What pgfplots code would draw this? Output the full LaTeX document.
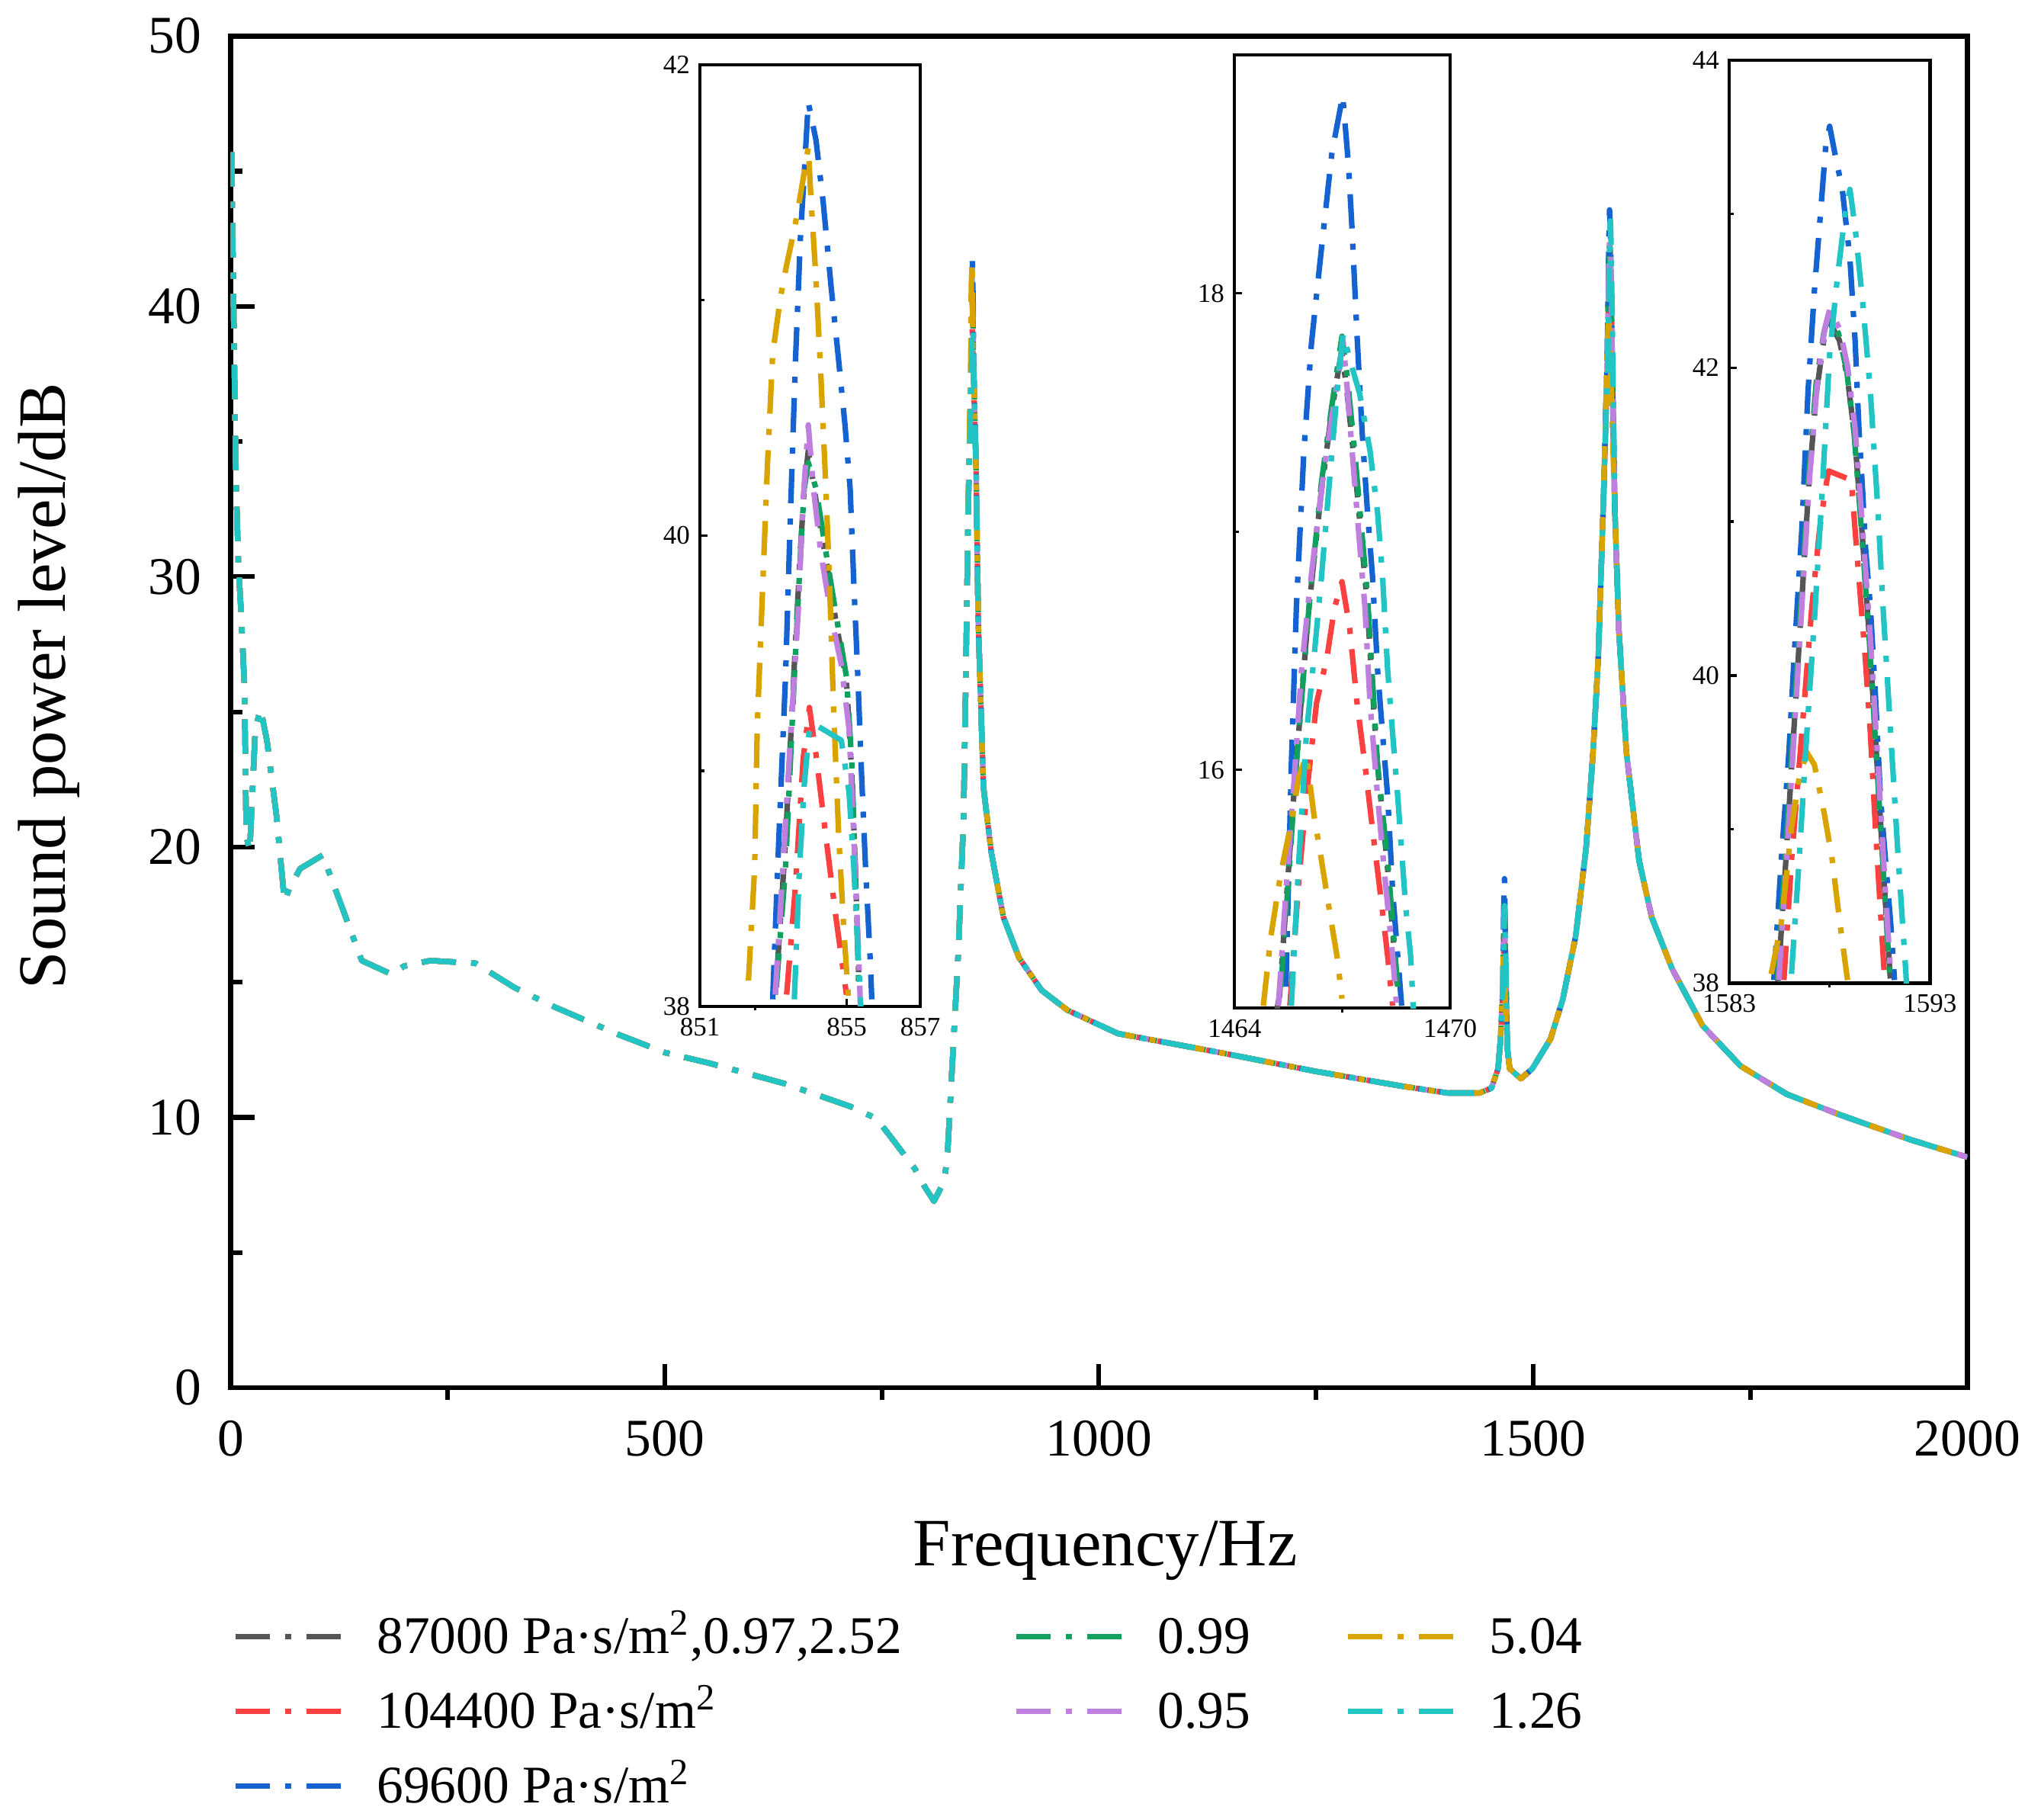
\documentclass[border=0pt]{standalone}
\usepackage{fontspec}
\setmainfont{Liberation Serif}
\usepackage{pgfplots}
\usepackage{pgfplotstable}
\pgfplotsset{compat=1.18}
\definecolor{cgy}{HTML}{555555}
\definecolor{crd}{HTML}{F94141}
\definecolor{cbl}{HTML}{1463D1}
\definecolor{cgn}{HTML}{12A05E}
\definecolor{cpu}{HTML}{BF7FDF}
\definecolor{cor}{HTML}{D9A300}
\definecolor{ccy}{HTML}{22C4C4}

\pgfplotstableread{
f gy rd bl gn pu or cy
1 45.7 45.7 45.7 45.7 45.7 45.7 45.7
6 33.7 33.7 33.7 33.7 33.7 33.7 33.7
9 30.4 30.4 30.4 30.4 30.4 30.4 30.4
12 28.7 28.7 28.7 28.7 28.7 28.7 28.7
16 25.9 25.9 25.9 25.9 25.9 25.9 25.9
18 20.4 20.4 20.4 20.4 20.4 20.4 20.4
22 19.85 19.85 19.85 19.85 19.85 19.85 19.85
25.6 22.4 22.4 22.4 22.4 22.4 22.4 22.4
28.5 24.4 24.4 24.4 24.4 24.4 24.4 24.4
34.6 25.1 25.1 25.1 25.1 25.1 25.1 25.1
42 23.9 23.9 23.9 23.9 23.9 23.9 23.9
53 21.1 21.1 21.1 21.1 21.1 21.1 21.1
62 18.0 18.0 18.0 18.0 18.0 18.0 18.0
68 18.5 18.5 18.5 18.5 18.5 18.5 18.5
80 19.2 19.2 19.2 19.2 19.2 19.2 19.2
106 19.7 19.7 19.7 19.7 19.7 19.7 19.7
128 17.8 17.8 17.8 17.8 17.8 17.8 17.8
151 15.8 15.8 15.8 15.8 15.8 15.8 15.8
185 15.3 15.3 15.3 15.3 15.3 15.3 15.3
200 15.6 15.6 15.6 15.6 15.6 15.6 15.6
230 15.8 15.8 15.8 15.8 15.8 15.8 15.8
282 15.7 15.7 15.7 15.7 15.7 15.7 15.7
327 14.8 14.8 14.8 14.8 14.8 14.8 14.8
372 14.1 14.1 14.1 14.1 14.1 14.1 14.1
447 13.06 13.06 13.06 13.06 13.06 13.06 13.06
500 12.4 12.4 12.4 12.4 12.4 12.4 12.4
552 12.0 12.0 12.0 12.0 12.0 12.0 12.0
638 11.25 11.25 11.25 11.25 11.25 11.25 11.25
714 10.4 10.4 10.4 10.4 10.4 10.4 10.4
744 9.95 9.95 9.95 9.95 9.95 9.95 9.95
762 9.2 9.2 9.2 9.2 9.2 9.2 9.2
788 8.1 8.1 8.1 8.1 8.1 8.1 8.1
800 7.4 7.4 7.4 7.4 7.4 7.4 7.4
810 6.9 6.9 6.9 6.9 6.9 6.9 6.9
818 7.4 7.4 7.4 7.4 7.4 7.4 7.4
823 7.9 7.9 7.9 7.9 7.9 7.9 7.9
826 8.9 8.9 8.9 8.9 8.9 8.9 8.9
832 12.5 12.5 12.5 12.5 12.5 12.5 12.5
838 16.1 16.1 16.1 16.1 16.1 16.1 16.1
844 21.0 21.0 21.0 21.0 21.0 21.0 21.0
846.5 25.9 25.9 25.9 25.9 25.9 25.9 25.9
849.4 32.5 32.5 32.5 32.5 32.5 32.5 32.5
853.08 38.1 nan nan nan nan nan nan
853.33 38.7 nan nan nan nan nan nan
853.57 39.45 nan nan nan nan nan nan
853.74 39.95 nan nan nan nan nan nan
853.84 40.2 nan nan nan nan nan nan
853.95 40.36 nan nan nan nan nan nan
854.16 40.15 nan nan nan nan nan nan
854.43 39.9 nan nan nan nan nan nan
854.71 39.63 nan nan nan nan nan nan
854.99 39.38 nan nan nan nan nan nan
855.13 39.0 nan nan nan nan nan nan
855.23 38.6 nan nan nan nan nan nan
855.33 38.1 nan nan nan nan nan nan
853.36 nan 38.05 nan nan nan nan nan
853.60 nan 38.51 nan nan nan nan nan
853.81 nan 39.05 nan nan nan nan nan
853.98 nan 39.27 nan nan nan nan nan
854.16 nan 39.07 nan nan nan nan nan
854.43 nan 38.72 nan nan nan nan nan
854.71 nan 38.37 nan nan nan nan nan
854.99 nan 38.05 nan nan nan nan nan
852.98 nan nan 38.03 nan nan nan nan
853.15 nan nan 38.72 nan nan nan nan
853.33 nan nan 39.40 nan nan nan nan
853.46 nan nan 40.07 nan nan nan nan
853.60 nan nan 40.74 nan nan nan nan
853.74 nan nan 41.28 nan nan nan nan
853.84 nan nan 41.54 nan nan nan nan
853.95 nan nan 41.84 nan nan nan nan
854.16 nan nan 41.68 nan nan nan nan
854.36 nan nan 41.41 nan nan nan nan
854.57 nan nan 41.06 nan nan nan nan
854.78 nan nan 40.74 nan nan nan nan
854.95 nan nan 40.47 nan nan nan nan
855.09 nan nan 40.20 nan nan nan nan
855.19 nan nan 39.80 nan nan nan nan
855.30 nan nan 39.40 nan nan nan nan
855.40 nan nan 38.99 nan nan nan nan
855.51 nan nan 38.59 nan nan nan nan
855.64 nan nan 38.19 nan nan nan nan
855.68 nan nan 38.03 nan nan nan nan
853.08 nan nan nan 38.08 nan nan nan
853.33 nan nan nan 38.59 nan nan nan
853.57 nan nan nan 39.40 nan nan nan
853.74 nan nan nan 39.93 nan nan nan
853.84 nan nan nan 40.20 nan nan nan
853.95 nan nan nan 40.31 nan nan nan
854.16 nan nan nan 40.20 nan nan nan
854.43 nan nan nan 39.93 nan nan nan
854.71 nan nan nan 39.66 nan nan nan
854.99 nan nan nan 39.40 nan nan nan
855.13 nan nan nan 39.05 nan nan nan
855.23 nan nan nan 38.59 nan nan nan
855.33 nan nan nan 38.05 nan nan nan
853.05 nan nan nan nan 38.05 nan nan
853.26 nan nan nan nan 38.59 nan nan
853.46 nan nan nan nan 39.13 nan nan
853.67 nan nan nan nan 39.66 nan nan
853.81 nan nan nan nan 40.15 nan nan
853.95 nan nan nan nan 40.47 nan nan
854.09 nan nan nan nan 40.20 nan nan
854.29 nan nan nan nan 39.93 nan nan
854.57 nan nan nan nan 39.66 nan nan
854.85 nan nan nan nan 39.45 nan nan
855.06 nan nan nan nan 39.18 nan nan
855.19 nan nan nan nan 38.72 nan nan
855.33 nan nan nan nan 38.19 nan nan
855.37 nan nan nan nan 38.0 nan nan
852.32 nan nan nan nan nan 38.11 nan
852.49 nan nan nan nan nan 38.59 nan
852.56 nan nan nan nan nan 39.19 nan
852.70 nan nan nan nan nan 39.75 nan
852.84 nan nan nan nan nan 40.31 nan
852.98 nan nan nan nan nan 40.77 nan
853.19 nan nan nan nan nan 41.01 nan
853.36 nan nan nan nan nan 41.15 nan
853.57 nan nan nan nan nan 41.30 nan
853.74 nan nan nan nan nan 41.45 nan
853.91 nan nan nan nan nan 41.61 nan
853.95 nan nan nan nan nan 41.65 nan
854.02 nan nan nan nan nan 41.44 nan
854.16 nan nan nan nan nan 41.09 nan
854.29 nan nan nan nan nan 40.69 nan
854.43 nan nan nan nan nan 40.20 nan
854.54 nan nan nan nan nan 39.75 nan
854.64 nan nan nan nan nan 39.26 nan
854.78 nan nan nan nan nan 38.72 nan
854.92 nan nan nan nan nan 38.32 nan
855.06 nan nan nan nan nan 38.0 nan
853.57 nan nan nan nan nan nan 38.03
853.71 nan nan nan nan nan nan 38.59
853.84 nan nan nan nan nan nan 38.94
853.98 nan nan nan nan nan nan 39.18
854.10 nan nan nan nan nan nan 39.20
854.43 nan nan nan nan nan nan 39.17
854.85 nan nan nan nan nan nan 39.13
855.06 nan nan nan nan nan nan 38.91
855.19 nan nan nan nan nan nan 38.59
855.33 nan nan nan nan nan nan 38.16
855.38 nan nan nan nan nan nan 38.0
858.5 34.0 34.0 34.0 34.0 34.0 34.0 34.0
861 28.3 28.3 28.3 28.3 28.3 28.3 28.3
867 22.2 22.2 22.2 22.2 22.2 22.2 22.2
876 19.8 19.8 19.8 19.8 19.8 19.8 19.8
890 17.4 17.4 17.4 17.4 17.4 17.4 17.4
908 15.9 15.9 15.9 15.9 15.9 15.9 15.9
934 14.7 14.7 14.7 14.7 14.7 14.7 14.7
964 13.96 13.96 13.96 13.96 13.96 13.96 13.96
1022 13.1 13.1 13.1 13.1 13.1 13.1 13.1
1139 12.4 12.4 12.4 12.4 12.4 12.4 12.4
1250 11.7 11.7 11.7 11.7 11.7 11.7 11.7
1350 11.15 11.15 11.15 11.15 11.15 11.15 11.15
1402 10.9 10.9 10.9 10.9 10.9 10.9 10.9
1438 10.9 10.9 10.9 10.9 10.9 10.9 10.9
1452 11.08 11.08 11.08 11.08 11.08 11.08 11.08
1459.6 11.8 11.8 11.8 11.8 11.8 11.8 11.8
1462.5 12.9 12.9 12.9 12.9 12.9 12.9 12.9
1465.25 15.05 nan nan nan nan nan nan
1465.70 16.0 nan nan nan nan nan nan
1466.05 16.65 nan nan nan nan nan nan
1466.40 17.15 nan nan nan nan nan nan
1466.70 17.5 nan nan nan nan nan nan
1466.98 17.76 nan nan nan nan nan nan
1467.12 17.6 nan nan nan nan nan nan
1467.33 17.3 nan nan nan nan nan nan
1467.68 16.72 nan nan nan nan nan nan
1467.96 16.05 nan nan nan nan nan nan
1468.24 15.62 nan nan nan nan nan nan
1468.52 15.1 nan nan nan nan nan nan
1465.54 nan 15.01 nan nan nan nan nan
1465.79 nan 15.54 nan nan nan nan nan
1466.00 nan 15.89 nan nan nan nan nan
1466.28 nan 16.28 nan nan nan nan nan
1466.57 nan 16.47 nan nan nan nan nan
1466.78 nan 16.68 nan nan nan nan nan
1466.99 nan 16.79 nan nan nan nan nan
1467.20 nan 16.60 nan nan nan nan nan
1467.41 nan 16.28 nan nan nan nan nan
1467.63 nan 16.02 nan nan nan nan nan
1467.84 nan 15.75 nan nan nan nan nan
1468.05 nan 15.49 nan nan nan nan nan
1468.26 nan 15.22 nan nan nan nan nan
1468.40 nan 15.01 nan nan nan nan nan
1465.43 nan nan 15.09 nan nan nan nan
1465.58 nan nan 16.02 nan nan nan nan
1465.72 nan nan 16.68 nan nan nan nan
1465.93 nan nan 17.34 nan nan nan nan
1466.14 nan nan 17.79 nan nan nan nan
1466.42 nan nan 18.19 nan nan nan nan
1466.71 nan nan 18.59 nan nan nan nan
1467.01 nan nan 18.83 nan nan nan nan
1467.17 nan nan 18.54 nan nan nan nan
1467.27 nan nan 18.27 nan nan nan nan
1467.41 nan nan 17.82 nan nan nan nan
1467.55 nan nan 17.42 nan nan nan nan
1467.70 nan nan 17.08 nan nan nan nan
1467.84 nan nan 16.81 nan nan nan nan
1467.98 nan nan 16.42 nan nan nan nan
1468.12 nan nan 16.15 nan nan nan nan
1468.26 nan nan 15.89 nan nan nan nan
1468.40 nan nan 15.49 nan nan nan nan
1468.54 nan nan 15.22 nan nan nan nan
1468.65 nan nan 15.01 nan nan nan nan
1465.29 nan nan nan 15.09 nan nan nan
1465.72 nan nan nan 16.02 nan nan nan
1466.07 nan nan nan 16.68 nan nan nan
1466.42 nan nan nan 17.21 nan nan nan
1466.71 nan nan nan 17.53 nan nan nan
1466.99 nan nan nan 17.82 nan nan nan
1467.13 nan nan nan 17.66 nan nan nan
1467.34 nan nan nan 17.34 nan nan nan
1467.70 nan nan nan 16.73 nan nan nan
1467.98 nan nan nan 16.02 nan nan nan
1468.26 nan nan nan 15.62 nan nan nan
1468.54 nan nan nan 15.09 nan nan nan
1465.22 nan nan nan nan 15.01 nan nan
1465.43 nan nan nan nan 15.49 nan nan
1465.65 nan nan nan nan 15.94 nan nan
1465.86 nan nan nan nan 16.41 nan nan
1466.07 nan nan nan nan 16.73 nan nan
1466.28 nan nan nan nan 17.00 nan nan
1466.49 nan nan nan nan 17.26 nan nan
1466.71 nan nan nan nan 17.48 nan nan
1466.92 nan nan nan nan 17.69 nan nan
1467.02 nan nan nan nan 17.80 nan nan
1467.13 nan nan nan nan 17.61 nan nan
1467.34 nan nan nan nan 17.21 nan nan
1467.48 nan nan nan nan 16.95 nan nan
1467.63 nan nan nan nan 16.68 nan nan
1467.77 nan nan nan nan 16.28 nan nan
1467.98 nan nan nan nan 15.89 nan nan
1468.19 nan nan nan nan 15.54 nan nan
1468.40 nan nan nan nan 15.22 nan nan
1468.51 nan nan nan nan 15.01 nan nan
1464.80 nan nan nan nan nan 15.01 nan
1465.01 nan nan nan nan nan 15.30 nan
1465.29 nan nan nan nan nan 15.57 nan
1465.58 nan nan nan nan nan 15.78 nan
1465.79 nan nan nan nan nan 15.97 nan
1466.00 nan nan nan nan nan 16.06 nan
1466.21 nan nan nan nan nan 15.81 nan
1466.42 nan nan nan nan nan 15.62 nan
1466.64 nan nan nan nan nan 15.41 nan
1466.85 nan nan nan nan nan 15.22 nan
1466.99 nan nan nan nan nan 15.04 nan
1465.58 nan nan nan nan nan nan 15.01
1465.79 nan nan nan nan nan nan 15.62
1466.00 nan nan nan nan nan nan 16.15
1466.21 nan nan nan nan nan nan 16.47
1466.42 nan nan nan nan nan nan 16.81
1466.64 nan nan nan nan nan nan 17.21
1466.85 nan nan nan nan nan nan 17.58
1467.02 nan nan nan nan nan nan 17.83
1467.27 nan nan nan nan nan nan 17.69
1467.48 nan nan nan nan nan nan 17.58
1467.77 nan nan nan nan nan nan 17.34
1467.98 nan nan nan nan nan nan 17.08
1468.12 nan nan nan nan nan nan 16.81
1468.26 nan nan nan nan nan nan 16.42
1468.40 nan nan nan nan nan nan 16.15
1468.54 nan nan nan nan nan nan 15.89
1468.76 nan nan nan nan nan nan 15.43
1468.90 nan nan nan nan nan nan 15.22
1468.97 nan nan nan nan nan nan 15.01
1470.5 12.5 12.5 12.5 12.5 12.5 12.5 12.5
1473 11.8 11.8 11.8 11.8 11.8 11.8 11.8
1486 11.43 11.43 11.43 11.43 11.43 11.43 11.43
1499 11.8 11.8 11.8 11.8 11.8 11.8 11.8
1520 12.9 12.9 12.9 12.9 12.9 12.9 12.9
1534 14.35 14.35 14.35 14.35 14.35 14.35 14.35
1549 16.7 16.7 16.7 16.7 16.7 16.7 16.7
1561 19.97 19.97 19.97 19.97 19.97 19.97 19.97
1569 23.5 23.5 23.5 23.5 23.5 23.5 23.5
1575 27.0 27.0 27.0 27.0 27.0 27.0 27.0
1581 32.8 32.8 32.8 32.8 32.8 32.8 32.8
1585.43 38.02 nan nan nan nan nan nan
1585.83 38.82 nan nan nan nan nan nan
1586.22 39.65 nan nan nan nan nan nan
1586.60 40.46 nan nan nan nan nan nan
1586.97 41.26 nan nan nan nan nan nan
1587.35 41.85 nan nan nan nan nan nan
1587.73 42.2 nan nan nan nan nan nan
1587.98 42.3 nan nan nan nan nan nan
1588.48 42.18 nan nan nan nan nan nan
1588.87 41.95 nan nan nan nan nan nan
1589.25 41.55 nan nan nan nan nan nan
1589.63 40.9 nan nan nan nan nan nan
1590.00 40.2 nan nan nan nan nan nan
1590.38 39.38 nan nan nan nan nan nan
1590.76 38.56 nan nan nan nan nan nan
1591.02 38.03 nan nan nan nan nan nan
1585.72 nan 38.02 nan nan nan nan nan
1586.10 nan 38.80 nan nan nan nan nan
1586.61 nan 39.62 nan nan nan nan nan
1587.11 nan 40.44 nan nan nan nan nan
1587.49 nan 40.94 nan nan nan nan nan
1587.75 nan 41.18 nan nan nan nan nan
1587.94 nan 41.33 nan nan nan nan nan
1589.08 nan 41.27 nan nan nan nan nan
1589.27 nan 40.94 nan nan nan nan nan
1589.52 nan 40.53 nan nan nan nan nan
1589.77 nan 40.12 nan nan nan nan nan
1590.03 nan 39.62 nan nan nan nan nan
1590.28 nan 39.01 nan nan nan nan nan
1590.53 nan 38.47 nan nan nan nan nan
1590.72 nan 38.06 nan nan nan nan nan
1585.22 nan nan 38.02 nan nan nan nan
1585.59 nan nan 38.80 nan nan nan nan
1585.97 nan nan 39.50 nan nan nan nan
1586.23 nan nan 40.12 nan nan nan nan
1586.61 nan nan 40.94 nan nan nan nan
1586.92 nan nan 41.84 nan nan nan nan
1587.24 nan nan 42.50 nan nan nan nan
1587.56 nan nan 43.03 nan nan nan nan
1587.81 nan nan 43.45 nan nan nan nan
1588.00 nan nan 43.57 nan nan nan nan
1588.25 nan nan 43.40 nan nan nan nan
1588.63 nan nan 43.16 nan nan nan nan
1589.01 nan nan 42.71 nan nan nan nan
1589.27 nan nan 42.17 nan nan nan nan
1589.46 nan nan 41.60 nan nan nan nan
1589.65 nan nan 41.18 nan nan nan nan
1589.77 nan nan 40.86 nan nan nan nan
1590.03 nan nan 40.44 nan nan nan nan
1590.28 nan nan 39.87 nan nan nan nan
1590.53 nan nan 39.21 nan nan nan nan
1590.78 nan nan 38.80 nan nan nan nan
1591.04 nan nan 38.39 nan nan nan nan
1591.23 nan nan 38.02 nan nan nan nan
1585.40 nan nan nan 38.02 nan nan nan
1585.80 nan nan nan 38.85 nan nan nan
1586.20 nan nan nan 39.70 nan nan nan
1586.58 nan nan nan 40.50 nan nan nan
1586.95 nan nan nan 41.30 nan nan nan
1587.33 nan nan nan 41.90 nan nan nan
1587.70 nan nan nan 42.22 nan nan nan
1587.95 nan nan nan 42.35 nan nan nan
1588.45 nan nan nan 42.22 nan nan nan
1588.85 nan nan nan 41.98 nan nan nan
1589.22 nan nan nan 41.57 nan nan nan
1589.60 nan nan nan 40.92 nan nan nan
1589.98 nan nan nan 40.22 nan nan nan
1590.36 nan nan nan 39.40 nan nan nan
1590.74 nan nan nan 38.58 nan nan nan
1591.00 nan nan nan 38.04 nan nan nan
1585.47 nan nan nan nan 38.02 nan nan
1585.85 nan nan nan nan 38.80 nan nan
1586.23 nan nan nan nan 39.62 nan nan
1586.61 nan nan nan nan 40.44 nan nan
1586.99 nan nan nan nan 41.27 nan nan
1587.37 nan nan nan nan 41.88 nan nan
1587.75 nan nan nan nan 42.25 nan nan
1588.00 nan nan nan nan 42.38 nan nan
1588.51 nan nan nan nan 42.25 nan nan
1588.89 nan nan nan nan 42.01 nan nan
1589.27 nan nan nan nan 41.60 nan nan
1589.65 nan nan nan nan 40.94 nan nan
1590.03 nan nan nan nan 40.24 nan nan
1590.41 nan nan nan nan 39.42 nan nan
1590.78 nan nan nan nan 38.59 nan nan
1591.04 nan nan nan nan 38.06 nan nan
1585.09 nan nan nan nan nan 38.06 nan
1585.59 nan nan nan nan nan 38.39 nan
1586.10 nan nan nan nan nan 39.01 nan
1586.48 nan nan nan nan nan 39.33 nan
1586.86 nan nan nan nan nan 39.50 nan
1587.24 nan nan nan nan nan 39.42 nan
1587.75 nan nan nan nan nan 39.09 nan
1588.13 nan nan nan nan nan 38.80 nan
1588.51 nan nan nan nan nan 38.39 nan
1588.89 nan nan nan nan nan 38.02 nan
1586.10 nan nan nan nan nan nan 38.06
1586.48 nan nan nan nan nan nan 38.80
1586.86 nan nan nan nan nan nan 39.62
1587.24 nan nan nan nan nan nan 40.36
1587.62 nan nan nan nan nan nan 41.18
1588.00 nan nan nan nan nan nan 42.09
1588.38 nan nan nan nan nan nan 42.58
1588.76 nan nan nan nan nan nan 42.99
1589.01 nan nan nan nan nan nan 43.16
1589.27 nan nan nan nan nan nan 42.91
1589.65 nan nan nan nan nan nan 42.42
1590.03 nan nan nan nan nan nan 41.84
1590.41 nan nan nan nan nan nan 41.06
1590.66 nan nan nan nan nan nan 40.44
1591.04 nan nan nan nan nan nan 39.62
1591.42 nan nan nan nan nan nan 38.80
1591.80 nan nan nan nan nan nan 38.06
1594 32.6 32.6 32.6 32.6 32.6 32.6 32.6
1598.6 28.1 28.1 28.1 28.1 28.1 28.1 28.1
1607.4 23.5 23.5 23.5 23.5 23.5 23.5 23.5
1622 19.5 19.5 19.5 19.5 19.5 19.5 19.5
1636.6 17.4 17.4 17.4 17.4 17.4 17.4 17.4
1660 15.5 15.5 15.5 15.5 15.5 15.5 15.5
1695 13.4 13.4 13.4 13.4 13.4 13.4 13.4
1739 11.9 11.9 11.9 11.9 11.9 11.9 11.9
1792 10.86 10.86 10.86 10.86 10.86 10.86 10.86
1853 10.1 10.1 10.1 10.1 10.1 10.1 10.1
1935 9.17 9.17 9.17 9.17 9.17 9.17 9.17
2000 8.53 8.53 8.53 8.53 8.53 8.53 8.53
}\sptable

\pgfplotsset{
  dd/.style={line width=1.3pt, line cap=butt, line join=round,
    dash pattern=on 8.1pt off 3.6pt on 1.44pt off 3.6pt},
  sgy/.style={dd, cgy}, srd/.style={dd, crd}, sbl/.style={dd, cbl},
  sgn/.style={dd, cgn}, spu/.style={dd, cpu}, sor/.style={dd, cor},
  scy/.style={dd, ccy},
  inset/.style={
    scale only axis, anchor=south west,
    axis line style={line width=0.8pt},
    tick align=inside, xtick pos=left, ytick pos=left,
    major tick length=1.8pt, minor tick length=1.0pt,
    every tick/.style={black, line width=0.6pt},
    minor x tick style={yshift=-1pt},
    /pgf/number format/assume math mode=true,
    /pgf/number format/1000 sep={},
    tick label style={font=\fontsize{6.3}{7.5}\selectfont},
    xticklabel style={inner sep=0pt, anchor=north, yshift=-2.5pt},
    yticklabel style={inner sep=0pt, anchor=east, xshift=-2.2pt},
  },
}

\begin{document}
\begin{tikzpicture}
\path[use as bounding box] (-54.45pt,-101.88pt) rectangle (427.4pt,327.6pt);
\begin{axis}[
  at={(0pt,0pt)}, anchor=south west,
  width=410pt, height=319.1pt, scale only axis,
  xmin=0, xmax=2000, ymin=0, ymax=50,
  xtick={0,500,...,2000}, ytick={0,10,...,50},
  minor x tick num=1, minor y tick num=1,
  xtick pos=left, ytick pos=left,
  tick align=inside,
  major tick length=5.6pt, minor tick length=2.8pt,
  minor x tick style={yshift=-2.8pt},
  axis line style={line width=1.2pt},
  every tick/.style={black, line width=1.1pt},
  /pgf/number format/assume math mode=true,
  /pgf/number format/1000 sep={},
  tick label style={font=\fontsize{12.5}{15}\selectfont},
  xticklabel style={inner sep=0pt, anchor=north, yshift=-7.5pt},
  yticklabel style={inner sep=0pt, anchor=east, xshift=-6.75pt},
  xlabel={Frequency/Hz}, ylabel={Sound power level/dB},
  label style={font=\fontsize{16}{19}\selectfont, inner sep=0pt},
  xlabel style={at={([xshift=1.5pt,yshift=-42pt]axis description cs:0.5,0)}, anchor=base},
  ylabel style={at={([xshift=-39.1pt,yshift=6.1pt]axis description cs:0,0.5)}, anchor=base, rotate=0},
  legend columns=3,
  legend image code/.code={\draw[#1] (0pt,4.1pt) -- (25.2pt,4.1pt);},
  legend style={at={(0,0)}, anchor=north west, xshift=0.45pt, yshift=-53.8pt,
    draw=none, fill=none, inner sep=0pt, outer sep=0pt,
    font=\fontsize{12.5}{15}\selectfont,
    row sep=5.64pt, column sep=0pt,
    cells={anchor=base west},
    nodes={inner sep=0pt, text height=9pt, text depth=3pt},
    /tikz/every odd column/.append style={column sep=7.6pt}},
]
\addlegendimage{sgy}\addlegendentry{\makebox[150.3pt][l]{87000 Pa·s/m\textsuperscript{2},0.97,2.52}}
\addlegendimage{sgn}\addlegendentry{\makebox[44.2pt][l]{0.99}}
\addlegendimage{sor}\addlegendentry{5.04}
\addlegendimage{srd}\addlegendentry{\makebox[150.3pt][l]{104400 Pa·s/m\textsuperscript{2}}}
\addlegendimage{spu}\addlegendentry{\makebox[44.2pt][l]{0.95}}
\addlegendimage{scy}\addlegendentry{1.26}
\addlegendimage{sbl}\addlegendentry{\makebox[150.3pt][l]{69600 Pa·s/m\textsuperscript{2}}}
\addplot[sgy, forget plot] table[x=f, y=gy] {\sptable};
\addplot[srd, forget plot] table[x=f, y=rd] {\sptable};
\addplot[sbl, forget plot] table[x=f, y=bl] {\sptable};
\addplot[sgn, forget plot] table[x=f, y=gn] {\sptable};
\addplot[spu, forget plot] table[x=f, y=pu] {\sptable};
\addplot[sor, forget plot] table[x=f, y=or] {\sptable};
\addplot[scy, forget plot] table[x=f, y=cy] {\sptable};
\end{axis}

\begin{axis}[inset, at={(110.8pt,90.0pt)}, width=52.0pt, height=222.3pt,
  xmin=851, xmax=857, ymin=38, ymax=42,
  xtick={851,855,857}, minor xtick={852.5},
  ytick={38,40,42}, minor ytick={39,41},
  restrict x to domain=800:900]
\addplot[sgy] table[x=f, y=gy] {\sptable};
\addplot[srd] table[x=f, y=rd] {\sptable};
\addplot[sbl] table[x=f, y=bl] {\sptable};
\addplot[sgn] table[x=f, y=gn] {\sptable};
\addplot[spu] table[x=f, y=pu] {\sptable};
\addplot[sor] table[x=f, y=or] {\sptable};
\addplot[scy] table[x=f, y=cy] {\sptable};
\end{axis}

\begin{axis}[inset, at={(237.0pt,89.6pt)}, width=50.9pt, height=225.0pt,
  xmin=1464, xmax=1470, ymin=15, ymax=19,
  xtick={1464,1470}, minor xtick={1467},
  ytick={16,18}, minor ytick={17},
  restrict x to domain=1400:1530]
\addplot[sgy] table[x=f, y=gy] {\sptable};
\addplot[srd] table[x=f, y=rd] {\sptable};
\addplot[sbl] table[x=f, y=bl] {\sptable};
\addplot[sgn] table[x=f, y=gn] {\sptable};
\addplot[spu] table[x=f, y=pu] {\sptable};
\addplot[sor] table[x=f, y=or] {\sptable};
\addplot[scy] table[x=f, y=cy] {\sptable};
\end{axis}

\begin{axis}[inset, at={(353.8pt,95.5pt)}, width=47.4pt, height=217.9pt,
  xmin=1583, xmax=1593, ymin=38, ymax=44,
  xtick={1583,1593}, minor xtick={1588},
  ytick={38,40,42,44}, minor ytick={39,41,43},
  restrict x to domain=1540:1640]
\addplot[sgy] table[x=f, y=gy] {\sptable};
\addplot[srd] table[x=f, y=rd] {\sptable};
\addplot[sbl] table[x=f, y=bl] {\sptable};
\addplot[sgn] table[x=f, y=gn] {\sptable};
\addplot[spu] table[x=f, y=pu] {\sptable};
\addplot[sor] table[x=f, y=or] {\sptable};
\addplot[scy] table[x=f, y=cy] {\sptable};
\end{axis}
\end{tikzpicture}
\end{document}
